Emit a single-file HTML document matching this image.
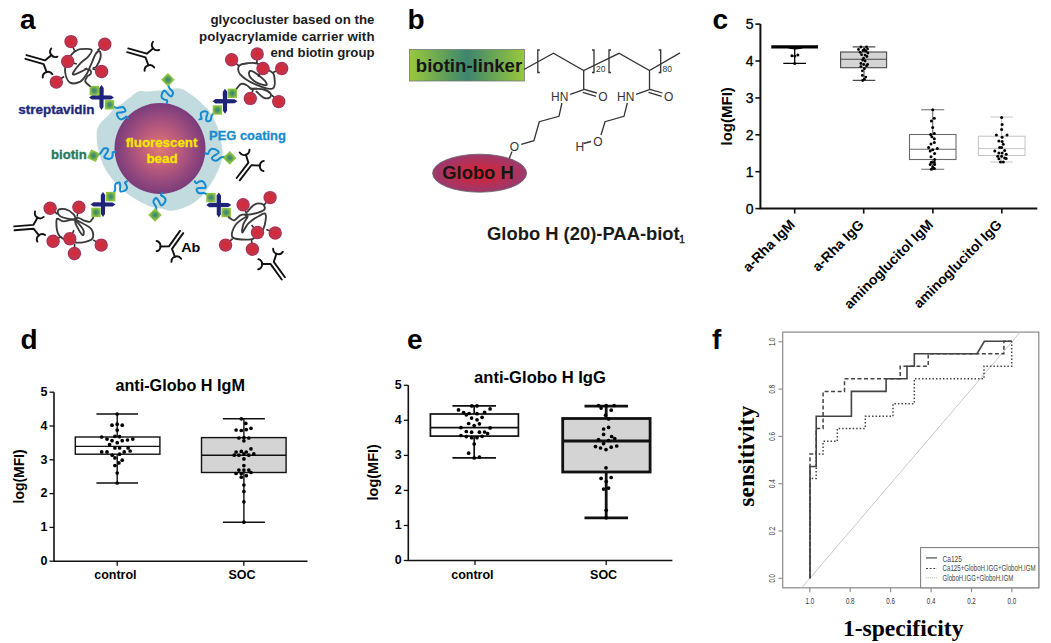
<!DOCTYPE html>
<html><head><meta charset="utf-8"><style>
html,body{margin:0;padding:0;background:#fff;}
body{width:1051px;height:643px;overflow:hidden;}
svg{display:block;}
</style></head><body>
<svg width="1051" height="643" viewBox="0 0 1051 643">
<defs>
<radialGradient id="bead" cx="0.5" cy="0.5" r="0.5"><stop offset="0" stop-color="#e07a70"/><stop offset="0.35" stop-color="#c4607a"/><stop offset="0.7" stop-color="#9c4c7e"/><stop offset="1" stop-color="#7a3c7a"/></radialGradient>
<radialGradient id="dia" cx="0.5" cy="0.5" r="0.6"><stop offset="0" stop-color="#2f7f80"/><stop offset="0.45" stop-color="#5f9e5a"/><stop offset="0.8" stop-color="#8cc63f"/></radialGradient>
<radialGradient id="red" cx="0.5" cy="0.5" r="0.5"><stop offset="0" stop-color="#e42230"/><stop offset="0.45" stop-color="#c9303f"/><stop offset="0.8" stop-color="#bd3650"/><stop offset="0.93" stop-color="#a82a50"/><stop offset="1" stop-color="#b03a5a"/></radialGradient>
<radialGradient id="gh" cx="0.5" cy="0.5" r="0.5"><stop offset="0" stop-color="#e0202e"/><stop offset="1" stop-color="#9a3a6e"/></radialGradient>
<linearGradient id="bl" x1="0" x2="1" y1="0" y2="0"><stop offset="0" stop-color="#98c93b"/><stop offset="0.3" stop-color="#62a158"/><stop offset="0.5" stop-color="#3d8570"/><stop offset="0.7" stop-color="#62a158"/><stop offset="1" stop-color="#98c93b"/></linearGradient>
</defs>
<rect width="1051" height="643" fill="#fff"/>
<path d="M97.5,128.5 C98.3,126.2 99.6,124.1 101.3,122 C103,119.9 105.7,118 107.9,115.8 C110.1,113.5 112.1,110.5 114.4,108.5 C116.7,106.5 119.4,105.4 121.9,103.7 C124.4,102 127.1,99.8 129.3,98.1 C131.5,96.4 133,94.6 134.9,93.4 C136.8,92.2 138.3,91.4 140.5,91.1 C142.7,90.8 143.9,91.7 148,91.5 C152.1,91.3 159.9,90.3 165.3,89.8 C170.7,89.3 175.8,87.6 180.5,88.7 C185.2,89.8 190,93.8 193.6,96.3 C197.2,98.8 199.8,101.6 202.3,104 C204.8,106.4 206.8,107.8 208.8,110.5 C210.8,113.2 212.9,117 214.5,120.3 C216.1,123.5 217.4,126.5 218.5,130 C219.6,133.4 220.3,137.3 221,141 C221.7,144.7 222.5,148.3 222.5,152 C222.5,155.7 222.2,159 221,163 C219.8,167 217.4,171.9 215.4,175.9 C213.4,179.9 211.4,183.2 208.8,186.8 C206.2,190.4 203.7,194.4 200.1,197.7 C196.5,201 191.7,204.2 187,206.4 C182.3,208.6 176.2,210.3 171.8,210.7 C167.5,211.1 164.5,209.3 160.9,208.6 C157.3,207.9 153.7,207.7 150,206.4 C146.3,205.1 142.9,203.4 138.7,201 C134.5,198.6 129,195.2 124.7,191.7 C120.4,188.2 116.5,184.3 113,180 C109.5,175.7 106.2,171.4 103.7,166 C101.2,160.6 99,152.4 97.8,147.4 C96.6,142.4 96.8,139.2 96.7,136 C96.7,132.8 96.7,130.8 97.5,128.5Z" fill="#c1dbde"/>
<circle cx="160" cy="148.5" r="45.5" fill="url(#bead)"/>
<text x="161.5" y="146.8" font-family='"Liberation Sans", sans-serif' font-size="13.3" font-weight="bold" fill="#f5e800" text-anchor="middle" stroke="#f5e800" stroke-width="0.3">fluorescent</text>
<text x="162" y="163.2" font-family='"Liberation Sans", sans-serif' font-size="13.3" font-weight="bold" fill="#f5e800" text-anchor="middle" stroke="#f5e800" stroke-width="0.3">bead</text>
<path d="M166.8,103 C166.9,102.6 167.6,100.9 167.2,100.3 C166.9,99.8 165.6,100.1 164.7,99.7 C163.8,99.2 162.4,98.7 161.9,97.8 C161.4,96.9 161.3,95.6 161.8,94.4 C162.2,93.2 163.5,90.5 164.6,90.5 C165.7,90.6 167.2,93.6 168.4,94.6 C169.5,95.6 170.6,96.8 171.4,96.4 C172.1,96 173.4,93.6 173,92.2 C172.6,90.7 170,89.2 169.2,87.7 C168.3,86.2 168.1,83.9 167.9,83.2" fill="none" stroke="#138ad0" stroke-width="2" stroke-linecap="round" stroke-linejoin="round"/>
<path d="M199.4,119.4 C199.8,119.3 201.3,119.2 201.6,118.7 C201.8,118.2 201,117.1 200.9,116.2 C200.8,115.2 200.6,113.8 201,113 C201.4,112.2 202.3,111.5 203.4,111.4 C204.5,111.3 207.1,111.4 207.6,112.4 C208.1,113.4 206.6,116 206.4,117.4 C206.2,118.8 205.8,120.2 206.4,120.8 C207.1,121.3 209.4,121.4 210.3,120.5 C211.2,119.6 211.1,116.6 211.9,115.2 C212.6,113.9 214.1,112.8 214.6,112.3" fill="none" stroke="#138ad0" stroke-width="2" stroke-linecap="round" stroke-linejoin="round"/>
<path d="M205.2,153.2 C205.7,153.3 207.4,154.3 208,154 C208.6,153.7 208.4,152.3 209,151.5 C209.5,150.7 210.3,149.4 211.3,149 C212.3,148.6 213.7,148.7 214.9,149.2 C216.1,149.8 218.9,151.4 218.7,152.5 C218.6,153.6 215.2,154.8 214,155.8 C212.9,156.8 211.4,157.7 211.8,158.5 C212.1,159.4 214.5,160.9 216.1,160.7 C217.7,160.5 219.6,158.1 221.3,157.4 C223,156.7 225.4,156.8 226.2,156.7" fill="none" stroke="#138ad0" stroke-width="2" stroke-linecap="round" stroke-linejoin="round"/>
<path d="M194.7,181.2 C195,181.6 195.7,183.2 196.4,183.3 C197,183.4 197.7,182.2 198.6,181.8 C199.5,181.5 200.8,180.8 201.8,181 C202.8,181.3 203.8,182 204.5,183.2 C205.1,184.3 206.2,187 205.4,187.8 C204.7,188.6 201.4,187.8 199.9,188 C198.4,188.2 196.8,188.2 196.6,189 C196.3,189.8 197.3,192.3 198.6,193 C199.9,193.7 202.9,192.8 204.5,193.2 C206.2,193.5 208,194.9 208.7,195.2" fill="none" stroke="#138ad0" stroke-width="2" stroke-linecap="round" stroke-linejoin="round"/>
<path d="M162,192.9 C161.8,193.3 160.7,194.7 160.9,195.3 C161.1,196 162.5,196 163.3,196.6 C164,197.2 165.2,198.1 165.5,199.1 C165.7,200 165.5,201.3 164.8,202.4 C164.1,203.4 162.2,205.7 161.2,205.4 C160.1,205.1 159.3,201.8 158.5,200.6 C157.6,199.4 156.8,197.9 156,198.1 C155.1,198.3 153.4,200.3 153.4,201.7 C153.4,203.2 155.6,205.4 156.1,207 C156.5,208.7 156.2,210.8 156.2,211.6" fill="none" stroke="#138ad0" stroke-width="2" stroke-linecap="round" stroke-linejoin="round"/>
<path d="M127,181.2 C126.7,181.5 125,182.1 124.9,182.7 C124.8,183.3 125.9,184.1 126.3,185 C126.6,185.9 127.2,187.2 127,188.2 C126.8,189.1 126,190.1 124.8,190.6 C123.7,191.1 121,192.1 120.3,191.3 C119.5,190.5 120.4,187.3 120.3,185.9 C120.1,184.4 120.2,182.8 119.3,182.5 C118.5,182.2 116.1,183 115.4,184.3 C114.7,185.5 115.5,188.4 115.1,190.1 C114.7,191.7 113.3,193.3 113,194" fill="none" stroke="#138ad0" stroke-width="2" stroke-linecap="round" stroke-linejoin="round"/>
<path d="M115.3,152 C114.9,152 113.2,151.7 112.7,152.2 C112.3,152.7 112.9,153.9 112.7,154.8 C112.5,155.8 112.3,157.3 111.6,157.9 C110.9,158.6 109.8,159 108.5,158.9 C107.3,158.7 104.5,158.1 104.3,157 C104.1,155.9 106.5,153.7 107.1,152.4 C107.8,151.1 108.7,149.7 108.1,149.1 C107.6,148.4 105.1,147.8 103.8,148.5 C102.6,149.2 101.7,152.1 100.5,153.3 C99.4,154.4 97.3,155.1 96.7,155.5" fill="none" stroke="#138ad0" stroke-width="2" stroke-linecap="round" stroke-linejoin="round"/>
<path d="M128.2,118.2 C127.9,117.9 127,116.4 126.3,116.4 C125.7,116.4 125.2,117.6 124.3,118.1 C123.5,118.6 122.3,119.4 121.3,119.4 C120.3,119.3 119.2,118.7 118.5,117.7 C117.8,116.6 116.4,114.1 117,113.2 C117.6,112.3 120.9,112.7 122.4,112.3 C123.8,111.9 125.4,111.7 125.5,110.8 C125.6,110 124.5,107.7 123.1,107.2 C121.7,106.7 119,108 117.3,107.9 C115.6,107.8 113.7,106.7 113,106.5" fill="none" stroke="#138ad0" stroke-width="2" stroke-linecap="round" stroke-linejoin="round"/>
<rect x="163.1" y="74.9" width="9.6" height="9.6" fill="url(#dia)" transform="rotate(45 167.9 79.7)"/>
<rect x="224.9" y="153.1" width="9.6" height="9.6" fill="url(#dia)" transform="rotate(45 229.7 157.9)"/>
<rect x="150.2" y="210.2" width="9.6" height="9.6" fill="url(#dia)" transform="rotate(45 155 215)"/>
<rect x="88.7" y="150.9" width="9.6" height="9.6" fill="url(#dia)" transform="rotate(25 93.5 155.7)"/>
<g transform="translate(101.5 97.4) rotate(0)" fill="#1f2479">
<path d="M0,-12.5 L2.2,-9.5 L2,9.5 L0,12.5 L-2,9.5 L-2.2,-9.5Z"/>
<path d="M-12.5,0 L-9.5,-2.2 L9.5,-2 L12.5,0 L9.5,2 L-9.5,2.2Z"/>
</g>
<rect x="89.6" y="85.9" width="9.4" height="9.4" fill="url(#dia)" transform="rotate(0 94.3 90.6)"/>
<rect x="104.8" y="100.1" width="9.4" height="9.4" fill="url(#dia)" transform="rotate(0 109.5 104.8)"/>
<g transform="translate(225 101.2) rotate(0)" fill="#1f2479">
<path d="M0,-12.5 L2.2,-9.5 L2,9.5 L0,12.5 L-2,9.5 L-2.2,-9.5Z"/>
<path d="M-12.5,0 L-9.5,-2.2 L9.5,-2 L12.5,0 L9.5,2 L-9.5,2.2Z"/>
</g>
<rect x="227.6" y="88.6" width="9.4" height="9.4" fill="url(#dia)" transform="rotate(0 232.3 93.3)"/>
<rect x="212.7" y="105.3" width="9.4" height="9.4" fill="url(#dia)" transform="rotate(0 217.4 110)"/>
<g transform="translate(103 204.4) rotate(0)" fill="#1f2479">
<path d="M0,-12.5 L2.2,-9.5 L2,9.5 L0,12.5 L-2,9.5 L-2.2,-9.5Z"/>
<path d="M-12.5,0 L-9.5,-2.2 L9.5,-2 L12.5,0 L9.5,2 L-9.5,2.2Z"/>
</g>
<rect x="106" y="191.9" width="9.4" height="9.4" fill="url(#dia)" transform="rotate(0 110.7 196.6)"/>
<rect x="91.3" y="207.7" width="9.4" height="9.4" fill="url(#dia)" transform="rotate(0 96 212.4)"/>
<g transform="translate(218.8 205) rotate(0)" fill="#1f2479">
<path d="M0,-12.5 L2.2,-9.5 L2,9.5 L0,12.5 L-2,9.5 L-2.2,-9.5Z"/>
<path d="M-12.5,0 L-9.5,-2.2 L9.5,-2 L12.5,0 L9.5,2 L-9.5,2.2Z"/>
</g>
<rect x="206.3" y="192.9" width="9.4" height="9.4" fill="url(#dia)" transform="rotate(0 211 197.6)"/>
<rect x="221.5" y="207.8" width="9.4" height="9.4" fill="url(#dia)" transform="rotate(0 226.2 212.5)"/>
<path d="M90,86.1 C89.2,85.3 85.9,83.1 85.4,81.6 C84.9,80.1 86,78.3 86.9,77 C87.8,75.7 90.5,74.7 91,73.5 C91.5,72.3 90.9,70.8 90,70 C89.1,69.2 86.2,69.1 85.4,68.9" fill="none" stroke="#3a3a3a" stroke-width="1.85" stroke-linecap="round" stroke-linejoin="round"/>
<path d="M74.3,51.7 C75.3,51.3 77.4,49.5 80.3,49.2 C83.2,48.9 90.2,48.5 91.5,49.7 C92.8,50.9 90.3,54 88.4,56.3 C86.5,58.6 82.8,60.7 80.3,63.4 C77.8,66.1 74.3,70.7 73.3,72.5 C72.3,74.3 72.6,74.8 74.3,74.5 C76,74.2 81.4,71.5 83.4,70.5 C85.4,69.5 85.9,68.8 86.4,68.4" fill="none" stroke="#3a3a3a" stroke-width="1.85" stroke-linecap="round" stroke-linejoin="round"/>
<path d="M74.3,51.7 C73.1,53.1 68.7,56.8 67.2,60.3 C65.7,63.8 64.7,68.8 65.2,72.5 C65.7,76.2 67.7,81.1 70.2,82.6 C72.7,84.1 77.6,82.9 80.3,81.6 C83,80.2 84.5,77.5 86.4,74.5 C88.3,71.5 90,66.8 91.5,63.4 C93,60 94.2,56.3 95.5,54.3 C96.8,52.3 98.8,50.7 99.6,51.2 C100.4,51.7 101.1,54.8 100.6,57.3 C100.1,59.8 97.7,64.6 96.5,66.4 C95.3,68.2 94,67.7 93.5,67.9" fill="none" stroke="#3a3a3a" stroke-width="1.85" stroke-linecap="round" stroke-linejoin="round"/>
<path d="M236.7,88.5 C237.4,87.7 239.6,84.5 241.2,83.9 C242.8,83.3 244.6,84.2 246.3,85 C248,85.8 249.7,88.4 251.4,89 C253.1,89.6 255.6,88.6 256.4,88.5" fill="none" stroke="#3a3a3a" stroke-width="1.85" stroke-linecap="round" stroke-linejoin="round"/>
<path d="M239.2,65.7 C237.8,67.5 237.5,71.2 240.2,74.3 C242.9,77.4 250,82 255.4,84.4 C260.8,86.8 269.5,90 272.6,88.5 C275.7,87 274.6,78.2 274.1,75.3 C273.6,72.3 272.4,72.7 269.6,70.8 C266.8,68.9 260.9,65 257.4,63.7 C253.8,62.4 251.3,62.9 248.3,63.2 C245.3,63.5 240.5,63.9 239.2,65.7Z" fill="none" stroke="#3a3a3a" stroke-width="1.85" stroke-linecap="round" stroke-linejoin="round"/>
<path d="M249.3,71.8 C248.8,72.7 248.8,75.5 250.3,77.4 C251.8,79.3 255.7,82.1 258.4,83.4 C261.1,84.7 265.6,85.7 266.5,85 C267.4,84.3 265.7,81.6 263.5,79.4 C261.3,77.2 255.8,73.1 253.4,71.8 C251,70.5 249.8,70.9 249.3,71.8Z" fill="none" stroke="#3a3a3a" stroke-width="1.85" stroke-linecap="round" stroke-linejoin="round"/>
<path d="M250.3,88.5 C252.5,88.7 260.1,88.7 263.5,89.5 C266.9,90.3 269.6,92.2 270.6,93.6 C271.6,94.9 270.8,96.9 269.6,97.6 C268.4,98.3 265.7,98.6 263.5,97.6 C261.3,96.6 257.6,92.5 256.4,91.5" fill="none" stroke="#3a3a3a" stroke-width="1.85" stroke-linecap="round" stroke-linejoin="round"/>
<path d="M93.1,217.8 C92.5,218.5 91.2,221.4 89.6,221.8 C88,222.2 85.4,221 83.5,220.3 C81.6,219.6 79.9,218 78.4,217.8 C76.9,217.6 75.1,219.1 74.4,219.3" fill="none" stroke="#3a3a3a" stroke-width="1.85" stroke-linecap="round" stroke-linejoin="round"/>
<path d="M58.2,210.2 C57.4,211.4 57.5,214.6 60.2,216.2 C62.9,217.8 72.2,220.1 74.4,219.8 C76.6,219.5 74.9,216 73.4,214.2 C71.9,212.4 67.8,209.9 65.3,209.2 C62.8,208.5 59.1,209 58.2,210.2Z" fill="none" stroke="#3a3a3a" stroke-width="1.85" stroke-linecap="round" stroke-linejoin="round"/>
<path d="M56.7,219.3 C56,221.7 56.1,231.6 59.2,235.5 C62.3,239.4 70,241.8 75.4,242.5 C80.8,243.2 88.9,241.7 91.6,239.5 C94.3,237.3 93.4,232.3 91.6,229.4 C89.8,226.5 83.4,224 80.5,222.3 C77.6,220.6 77.3,219.5 74.4,219.3 C71.5,219.1 66.2,221.3 63.3,221.3 C60.3,221.3 57.4,216.9 56.7,219.3Z" fill="none" stroke="#3a3a3a" stroke-width="1.85" stroke-linecap="round" stroke-linejoin="round"/>
<path d="M75.4,220.8 C75.1,221.1 75.2,222.9 76.4,225.3 C77.6,227.7 81.3,234.2 82.5,235 C83.7,235.8 84.2,232.3 83.5,230.4 C82.8,228.5 79.8,224.9 78.4,223.3 C77.1,221.7 75.7,220.5 75.4,220.8Z" fill="none" stroke="#3a3a3a" stroke-width="1.85" stroke-linecap="round" stroke-linejoin="round"/>
<path d="M228.7,217.3 C229.6,217.8 232.3,220.6 234.2,220.3 C236.1,220 238.1,216.3 240.3,215.3 C242.5,214.3 246.2,214.5 247.4,214.3" fill="none" stroke="#3a3a3a" stroke-width="1.85" stroke-linecap="round" stroke-linejoin="round"/>
<path d="M247.4,216.3 C246.1,216.5 237.6,221.9 235.2,225.4 C232.8,228.9 230.5,235.1 232.7,237.5 C234.9,239.9 244.6,239.6 248.4,239.6 C252.2,239.6 253,239.4 255.5,237.5 C258,235.6 261.9,232.3 263.6,228.4 C265.3,224.5 266.5,216.3 265.6,214.3 C264.8,212.3 261.4,214.8 258.5,216.3 C255.6,217.8 251.1,220.7 248.4,223.4 C245.7,226.1 243.2,232.3 242.3,232.5 C241.5,232.7 242.5,227.1 243.3,224.4 C244.2,221.7 248.8,216.1 247.4,216.3Z" fill="none" stroke="#3a3a3a" stroke-width="1.85" stroke-linecap="round" stroke-linejoin="round"/>
<path d="M247.4,211.7 C248.6,210.5 251.9,205.9 254.4,204.7 C256.9,203.4 260.8,203.4 262.5,204.2 C264.2,204.9 265.4,207.8 264.6,209.2 C263.8,210.6 260.7,211.8 257.5,212.8 C254.3,213.8 247.3,214.9 245.3,215.3" fill="none" stroke="#3a3a3a" stroke-width="1.85" stroke-linecap="round" stroke-linejoin="round"/>
<path d="M71,41.6 L74.4,50.5" stroke="#2e2e2e" stroke-width="1.6"/>
<path d="M104.8,44.2 L97.5,50.3" stroke="#2e2e2e" stroke-width="1.6"/>
<path d="M67.7,61.4 L76.8,64.1" stroke="#2e2e2e" stroke-width="1.6"/>
<path d="M101.6,71.5 L92.5,68.8" stroke="#2e2e2e" stroke-width="1.6"/>
<path d="M56.3,82.1 L64,76.5" stroke="#2e2e2e" stroke-width="1.6"/>
<path d="M231.6,59.7 L238.9,65.8" stroke="#2e2e2e" stroke-width="1.6"/>
<path d="M257.2,53.9 L256.8,63.4" stroke="#2e2e2e" stroke-width="1.6"/>
<path d="M263,68.5 L258.1,76.6" stroke="#2e2e2e" stroke-width="1.6"/>
<path d="M281.7,68.5 L273,72.4" stroke="#2e2e2e" stroke-width="1.6"/>
<path d="M250.3,98.4 L253.1,89.3" stroke="#2e2e2e" stroke-width="1.6"/>
<path d="M278.7,101.6 L271.8,95.1" stroke="#2e2e2e" stroke-width="1.6"/>
<path d="M50.1,208.2 L57.5,214.1" stroke="#2e2e2e" stroke-width="1.6"/>
<path d="M78.9,207.3 L77.1,216.6" stroke="#2e2e2e" stroke-width="1.6"/>
<path d="M53.1,241.3 L61.2,236.4" stroke="#2e2e2e" stroke-width="1.6"/>
<path d="M69.8,238.7 L74,230.2" stroke="#2e2e2e" stroke-width="1.6"/>
<path d="M101.2,245.1 L93.2,239.9" stroke="#2e2e2e" stroke-width="1.6"/>
<path d="M74.4,253.5 L74.6,244" stroke="#2e2e2e" stroke-width="1.6"/>
<path d="M243.1,204.7 L246.5,213.6" stroke="#2e2e2e" stroke-width="1.6"/>
<path d="M270.1,197.6 L264.2,205" stroke="#2e2e2e" stroke-width="1.6"/>
<path d="M257.5,232.5 L251.6,225" stroke="#2e2e2e" stroke-width="1.6"/>
<path d="M275.2,233 L266.4,229.5" stroke="#2e2e2e" stroke-width="1.6"/>
<path d="M225.6,245.1 L232.6,238.7" stroke="#2e2e2e" stroke-width="1.6"/>
<path d="M252.4,249.2 L251.5,239.7" stroke="#2e2e2e" stroke-width="1.6"/>
<circle cx="71" cy="41.6" r="6.7" fill="url(#red)"/>
<circle cx="104.8" cy="44.2" r="6.7" fill="url(#red)"/>
<circle cx="67.7" cy="61.4" r="6.7" fill="url(#red)"/>
<circle cx="101.6" cy="71.5" r="6.7" fill="url(#red)"/>
<circle cx="56.3" cy="82.1" r="6.7" fill="url(#red)"/>
<circle cx="231.6" cy="59.7" r="6.7" fill="url(#red)"/>
<circle cx="257.2" cy="53.9" r="6.7" fill="url(#red)"/>
<circle cx="263" cy="68.5" r="6.7" fill="url(#red)"/>
<circle cx="281.7" cy="68.5" r="6.7" fill="url(#red)"/>
<circle cx="250.3" cy="98.4" r="6.7" fill="url(#red)"/>
<circle cx="278.7" cy="101.6" r="6.7" fill="url(#red)"/>
<circle cx="50.1" cy="208.2" r="6.7" fill="url(#red)"/>
<circle cx="78.9" cy="207.3" r="6.7" fill="url(#red)"/>
<circle cx="53.1" cy="241.3" r="6.7" fill="url(#red)"/>
<circle cx="69.8" cy="238.7" r="6.7" fill="url(#red)"/>
<circle cx="101.2" cy="245.1" r="6.7" fill="url(#red)"/>
<circle cx="74.4" cy="253.5" r="6.7" fill="url(#red)"/>
<circle cx="243.1" cy="204.7" r="6.7" fill="url(#red)"/>
<circle cx="270.1" cy="197.6" r="6.7" fill="url(#red)"/>
<circle cx="257.5" cy="232.5" r="6.7" fill="url(#red)"/>
<circle cx="275.2" cy="233" r="6.7" fill="url(#red)"/>
<circle cx="225.6" cy="245.1" r="6.7" fill="url(#red)"/>
<circle cx="252.4" cy="249.2" r="6.7" fill="url(#red)"/>
<g transform="translate(44.2 62.2) rotate(16)" fill="none" stroke="#111" stroke-width="1.9" stroke-linecap="round" stroke-linejoin="round">
<path d="M-19,-1.95 L0.3,-1.95 L5.1,-8.9 M-19,1.95 L0,1.95 L5.1,8.9"/>
<path d="M3,-15.1 A5.3,5.3 0 0 0 11.2,-9 M2.8,15.1 A5.3,5.3 0 0 1 11.1,9.2"/>
</g>
<g transform="translate(146 55.5) rotate(15.8)" fill="none" stroke="#111" stroke-width="1.9" stroke-linecap="round" stroke-linejoin="round">
<path d="M-19,-1.95 L0.3,-1.95 L5.1,-8.9 M-19,1.95 L0,1.95 L5.1,8.9"/>
<path d="M3,-15.1 A5.3,5.3 0 0 0 11.2,-9 M2.8,15.1 A5.3,5.3 0 0 1 11.1,9.2"/>
</g>
<g transform="translate(249.8 164.1) rotate(-52.4)" fill="none" stroke="#111" stroke-width="1.9" stroke-linecap="round" stroke-linejoin="round">
<path d="M-19,-1.95 L0.3,-1.95 L5.1,-8.9 M-19,1.95 L0,1.95 L5.1,8.9"/>
<path d="M3,-15.1 A5.3,5.3 0 0 0 11.2,-9 M2.8,15.1 A5.3,5.3 0 0 1 11.1,9.2"/>
</g>
<g transform="translate(33.3 226.8) rotate(-4.7)" fill="none" stroke="#111" stroke-width="1.9" stroke-linecap="round" stroke-linejoin="round">
<path d="M-19,-1.95 L0.3,-1.95 L5.1,-8.9 M-19,1.95 L0,1.95 L5.1,8.9"/>
<path d="M3,-15.1 A5.3,5.3 0 0 0 11.2,-9 M2.8,15.1 A5.3,5.3 0 0 1 11.1,9.2"/>
</g>
<g transform="translate(170.6 247.5) rotate(125.4)" fill="none" stroke="#111" stroke-width="1.9" stroke-linecap="round" stroke-linejoin="round">
<path d="M-19,-1.95 L0.3,-1.95 L5.1,-8.9 M-19,1.95 L0,1.95 L5.1,8.9"/>
<path d="M3,-15.1 A5.3,5.3 0 0 0 11.2,-9 M2.8,15.1 A5.3,5.3 0 0 1 11.1,9.2"/>
</g>
<g transform="translate(272.2 263) rotate(-125.8)" fill="none" stroke="#111" stroke-width="1.9" stroke-linecap="round" stroke-linejoin="round">
<path d="M-19,-1.95 L0.3,-1.95 L5.1,-8.9 M-19,1.95 L0,1.95 L5.1,8.9"/>
<path d="M3,-15.1 A5.3,5.3 0 0 0 11.2,-9 M2.8,15.1 A5.3,5.3 0 0 1 11.1,9.2"/>
</g>
<text x="20" y="29.4" font-family='"Liberation Sans", sans-serif' font-size="28" font-weight="bold" fill="#000" text-anchor="start" >a</text>
<text x="374.5" y="24.1" font-family='"Liberation Sans", sans-serif' font-size="13.3" font-weight="bold" fill="#1c1c1c" text-anchor="end" >glycocluster based on the</text>
<text x="374.5" y="40.6" font-family='"Liberation Sans", sans-serif' font-size="13.3" font-weight="bold" fill="#1c1c1c" text-anchor="end" textLength="175.5" lengthAdjust="spacing">polyacrylamide carrier with</text>
<text x="374.5" y="57" font-family='"Liberation Sans", sans-serif' font-size="13.2" font-weight="bold" fill="#1c1c1c" text-anchor="end" >end biotin group</text>
<text x="18.3" y="114.1" font-family='"Liberation Sans", sans-serif' font-size="13.44" font-weight="bold" fill="#202878" text-anchor="start" stroke="#202878" stroke-width="0.35">streptavidin</text>
<text x="209" y="140.4" font-family='"Liberation Sans", sans-serif' font-size="12.95" font-weight="bold" fill="#1a8ccc" text-anchor="start" stroke="#1a8ccc" stroke-width="0.3">PEG coating</text>
<text x="51" y="159.3" font-family='"Liberation Sans", sans-serif' font-size="13.1" font-weight="bold" fill="#2a785a" text-anchor="start" stroke="#2a785a" stroke-width="0.35">biotin</text>
<text x="181.2" y="252.4" font-family='"Liberation Sans", sans-serif' font-size="13.1" font-weight="bold" fill="#000" text-anchor="start" textLength="19.2" lengthAdjust="spacingAndGlyphs">Ab</text>
<text x="407.4" y="29.2" font-family='"Liberation Sans", sans-serif' font-size="28" font-weight="bold" fill="#000" text-anchor="start" >b</text>
<rect x="409.5" y="49.5" width="115" height="31.5" fill="url(#bl)" stroke="#777" stroke-width="0.8"/>
<text x="415.8" y="72.3" font-family='"Liberation Sans", sans-serif' font-size="18.6" font-weight="bold" fill="#161616" text-anchor="start" >biotin-linker</text>
<path d="M524,69.5 L553.4,53.3 L583.7,70.5 L619,53.3 L649.5,70.5 L680,52.9" fill="none" stroke="#333" stroke-width="1.3" stroke-linejoin="miter"/>
<path d="M539.8,50 L537.8,50 L537.8,72.5 L539.8,72.5" fill="none" stroke="#333" stroke-width="1.3" stroke-linejoin="miter"/>
<path d="M592,50 L594,50 L594,72.5 L592,72.5" fill="none" stroke="#333" stroke-width="1.3" stroke-linejoin="miter"/>
<path d="M611,50 L609,50 L609,72.5 L611,72.5" fill="none" stroke="#333" stroke-width="1.3" stroke-linejoin="miter"/>
<path d="M658.7,50 L660.7,50 L660.7,72.5 L658.7,72.5" fill="none" stroke="#333" stroke-width="1.3" stroke-linejoin="miter"/>
<text x="596" y="71.5" font-family='"Liberation Sans", sans-serif' font-size="8.5" font-weight="normal" fill="#333" text-anchor="start" >20</text>
<text x="662.5" y="71.5" font-family='"Liberation Sans", sans-serif' font-size="8.5" font-weight="normal" fill="#333" text-anchor="start" >80</text>
<path d="M583.7,70.5 L583.7,89.5" fill="none" stroke="#333" stroke-width="1.3" stroke-linejoin="miter"/>
<path d="M583.4,89.2 L596.8,93 M582.7,92.4 L596.1,96.3" fill="none" stroke="#333" stroke-width="1.3" stroke-linejoin="miter"/>
<path d="M583.7,89.6 L570.2,94.3" fill="none" stroke="#333" stroke-width="1.3" stroke-linejoin="miter"/>
<text x="598.3" y="101.1" font-family='"Liberation Sans", sans-serif' font-size="12" font-weight="normal" fill="#333" text-anchor="start" >O</text>
<text x="551" y="101.1" font-family='"Liberation Sans", sans-serif' font-size="12" font-weight="normal" fill="#333" text-anchor="start" >HN</text>
<path d="M649.5,70.5 L649.5,89.5" fill="none" stroke="#333" stroke-width="1.3" stroke-linejoin="miter"/>
<path d="M649.2,89.2 L662.5,93 M648.5,92.4 L661.8,96.3" fill="none" stroke="#333" stroke-width="1.3" stroke-linejoin="miter"/>
<path d="M649.5,89.6 L636,94.3" fill="none" stroke="#333" stroke-width="1.3" stroke-linejoin="miter"/>
<text x="664" y="101.1" font-family='"Liberation Sans", sans-serif' font-size="12" font-weight="normal" fill="#333" text-anchor="start" >O</text>
<text x="617" y="101.1" font-family='"Liberation Sans", sans-serif' font-size="12" font-weight="normal" fill="#333" text-anchor="start" >HN</text>
<path d="M561.9,103 L559,116.3 L539.3,121.7 L533.9,140.7 L521.2,144.3" fill="none" stroke="#333" stroke-width="1.3" stroke-linejoin="miter"/>
<text x="514.5" y="151" font-family='"Liberation Sans", sans-serif' font-size="12" font-weight="normal" fill="#333" text-anchor="middle" >O</text>
<path d="M512,151.5 L508.6,160" fill="none" stroke="#333" stroke-width="1.3" stroke-linejoin="miter"/>
<path d="M627.3,103 L624,116.3 L605,121.7 L601,135" fill="none" stroke="#333" stroke-width="1.3" stroke-linejoin="miter"/>
<text x="598" y="146" font-family='"Liberation Sans", sans-serif' font-size="12" font-weight="normal" fill="#333" text-anchor="middle" >O</text>
<path d="M583.5,143.5 L591,141.5" fill="none" stroke="#333" stroke-width="1.3" stroke-linejoin="miter"/>
<text x="575.5" y="151" font-family='"Liberation Sans", sans-serif' font-size="12" font-weight="normal" fill="#333" text-anchor="start" >H</text>
<ellipse cx="479.6" cy="173.2" rx="47" ry="19" fill="url(#gh)" stroke="#666" stroke-width="0.8"/>
<text x="478" y="178.7" font-family='"Liberation Sans", sans-serif' font-size="18.4" font-weight="bold" fill="#161616" text-anchor="middle" >Globo H</text>
<text x="487" y="239.6" font-family='"Liberation Sans", sans-serif' font-size="18.4" font-weight="bold" fill="#1a1a1a" text-anchor="start" >Globo H (20)-PAA-biot<tspan font-size="10" dx="-0.5" dy="3.5" font-weight="normal" stroke="#161616" stroke-width="0.4">1</tspan></text>
<text x="712.5" y="29.4" font-family='"Liberation Sans", sans-serif' font-size="28" font-weight="bold" fill="#000" text-anchor="start" >c</text>
<path d="M760.4,24.1 V208.6 H1037.3" fill="none" stroke="#111" stroke-width="2"/>
<path d="M755.4,208.6 H760.4" stroke="#111" stroke-width="1.6"/>
<text x="753.6" y="213.6" font-family='"Liberation Sans", sans-serif' font-size="14" font-weight="normal" fill="#000" text-anchor="end" stroke="#000" stroke-width="0.3">0</text>
<path d="M755.4,171.7 H760.4" stroke="#111" stroke-width="1.6"/>
<text x="753.6" y="176.7" font-family='"Liberation Sans", sans-serif' font-size="14" font-weight="normal" fill="#000" text-anchor="end" stroke="#000" stroke-width="0.3">1</text>
<path d="M755.4,134.8 H760.4" stroke="#111" stroke-width="1.6"/>
<text x="753.6" y="139.8" font-family='"Liberation Sans", sans-serif' font-size="14" font-weight="normal" fill="#000" text-anchor="end" stroke="#000" stroke-width="0.3">2</text>
<path d="M755.4,97.9 H760.4" stroke="#111" stroke-width="1.6"/>
<text x="753.6" y="102.9" font-family='"Liberation Sans", sans-serif' font-size="14" font-weight="normal" fill="#000" text-anchor="end" stroke="#000" stroke-width="0.3">3</text>
<path d="M755.4,61 H760.4" stroke="#111" stroke-width="1.6"/>
<text x="753.6" y="66" font-family='"Liberation Sans", sans-serif' font-size="14" font-weight="normal" fill="#000" text-anchor="end" stroke="#000" stroke-width="0.3">4</text>
<path d="M755.4,24.1 H760.4" stroke="#111" stroke-width="1.6"/>
<text x="753.6" y="29.1" font-family='"Liberation Sans", sans-serif' font-size="14" font-weight="normal" fill="#000" text-anchor="end" stroke="#000" stroke-width="0.3">5</text>
<path d="M794.7,208.6 V213.6" stroke="#111" stroke-width="1.6"/>
<path d="M863.7,208.6 V213.6" stroke="#111" stroke-width="1.6"/>
<path d="M932.9,208.6 V213.6" stroke="#111" stroke-width="1.6"/>
<path d="M1001.8,208.6 V213.6" stroke="#111" stroke-width="1.6"/>
<text transform="translate(732 116.3) rotate(-90)" font-family='"Liberation Sans", sans-serif' font-size="15" font-weight="bold" text-anchor="middle">log(MFI)</text>
<text transform="translate(795.7 225.5) rotate(-45)" font-family='"Liberation Sans", sans-serif' font-size="14" font-weight="bold" text-anchor="end">a-Rha IgM</text>
<text transform="translate(864.7 225.5) rotate(-45)" font-family='"Liberation Sans", sans-serif' font-size="14" font-weight="bold" text-anchor="end">a-Rha IgG</text>
<text transform="translate(933.9 225.5) rotate(-45)" font-family='"Liberation Sans", sans-serif' font-size="14" font-weight="bold" text-anchor="end">aminoglucitol IgM</text>
<text transform="translate(1002.8 225.5) rotate(-45)" font-family='"Liberation Sans", sans-serif' font-size="14" font-weight="bold" text-anchor="end">aminoglucitol IgG</text>
<path d="M771.3,46.8 H818" stroke="#000" stroke-width="3.3"/>
<path d="M786,47.5 Q795,51.5 805,47.5Z" fill="#000"/>
<path d="M794.7,46.5 V63.4 M783.3,63.4 H806" stroke="#000" stroke-width="1.3"/>
<circle cx="791.9" cy="55.7" r="1.5"/>
<circle cx="794.8" cy="56.1" r="1.5"/>
<circle cx="797.8" cy="55" r="1.5"/>
<circle cx="794.7" cy="63.4" r="1.5"/>
<path d="M864,46.9 V52 M864,67.7 V80.4" stroke="#484848" stroke-width="1.1" fill="none"/>
<path d="M852.7,46.9 H875.3 M852.7,80.4 H875.3" stroke="#484848" stroke-width="1.1" fill="none"/>
<rect x="840.6" y="52" width="46" height="15.7" fill="#d4d4d4" stroke="#484848" stroke-width="1.1"/>
<path d="M840.6,59.3 H886.6" stroke="#484848" stroke-width="1.1"/>
<circle cx="860.9" cy="47" r="1.4"/>
<circle cx="866.5" cy="47" r="1.4"/>
<circle cx="858.5" cy="49.5" r="1.4"/>
<circle cx="864.4" cy="49.5" r="1.4"/>
<circle cx="867.6" cy="49.1" r="1.4"/>
<circle cx="860.2" cy="52.3" r="1.4"/>
<circle cx="867.9" cy="53" r="1.4"/>
<circle cx="861.6" cy="54.7" r="1.4"/>
<circle cx="865.1" cy="55.1" r="1.4"/>
<circle cx="866.9" cy="56.5" r="1.4"/>
<circle cx="863.7" cy="58.2" r="1.4"/>
<circle cx="862.7" cy="60" r="1.4"/>
<circle cx="865.1" cy="61" r="1.4"/>
<circle cx="860.9" cy="63.5" r="1.4"/>
<circle cx="863.7" cy="64.5" r="1.4"/>
<circle cx="867.6" cy="64.5" r="1.4"/>
<circle cx="860.9" cy="66.6" r="1.4"/>
<circle cx="866.5" cy="65.9" r="1.4"/>
<circle cx="864.4" cy="68.7" r="1.4"/>
<circle cx="862.3" cy="70.8" r="1.4"/>
<circle cx="862.3" cy="75.4" r="1.4"/>
<circle cx="865.8" cy="77.1" r="1.4"/>
<circle cx="864.4" cy="79.2" r="1.4"/>
<circle cx="862.7" cy="80.5" r="1.4"/>
<circle cx="863" cy="50.5" r="1.4"/>
<circle cx="865.8" cy="51.2" r="1.4"/>
<path d="M932.7,109.7 V134.5 M932.7,159.5 V169.3" stroke="#6a6a6a" stroke-width="1.1" fill="none"/>
<path d="M921.2,109.7 H944.2 M921.2,169.3 H944.2" stroke="#6a6a6a" stroke-width="1.1" fill="none"/>
<rect x="909.5" y="134.5" width="46.5" height="25" fill="none" stroke="#6a6a6a" stroke-width="1.1"/>
<path d="M909.5,149.2 H956" stroke="#6a6a6a" stroke-width="1.1"/>
<circle cx="932.7" cy="109.7" r="1.5"/>
<circle cx="934.3" cy="118.2" r="1.5"/>
<circle cx="931.4" cy="121.1" r="1.5"/>
<circle cx="932.7" cy="127.4" r="1.5"/>
<circle cx="930.7" cy="134.5" r="1.5"/>
<circle cx="934.3" cy="133.4" r="1.5"/>
<circle cx="931.9" cy="136.7" r="1.5"/>
<circle cx="934.3" cy="138.8" r="1.5"/>
<circle cx="934.3" cy="142.4" r="1.5"/>
<circle cx="931" cy="144" r="1.5"/>
<circle cx="928.6" cy="147.6" r="1.5"/>
<circle cx="932.7" cy="149.7" r="1.5"/>
<circle cx="937.3" cy="148.6" r="1.5"/>
<circle cx="930.2" cy="150.9" r="1.5"/>
<circle cx="934.6" cy="153.5" r="1.5"/>
<circle cx="931" cy="156.8" r="1.5"/>
<circle cx="934.6" cy="159.5" r="1.5"/>
<circle cx="931.4" cy="162.3" r="1.5"/>
<circle cx="934.3" cy="162.3" r="1.5"/>
<circle cx="930.2" cy="164.4" r="1.5"/>
<circle cx="934.6" cy="164.4" r="1.5"/>
<circle cx="932.7" cy="166.9" r="1.5"/>
<circle cx="931.4" cy="169.3" r="1.5"/>
<circle cx="934.3" cy="168.5" r="1.5"/>
<path d="M1001.6,117 V136.2 M1001.6,155.5 V162" stroke="#c4c4c4" stroke-width="1.0" fill="none"/>
<path d="M990.5,117 H1012.8 M990.5,162 H1012.8" stroke="#c4c4c4" stroke-width="1.0" fill="none"/>
<rect x="978.4" y="136.2" width="46.6" height="19.3" fill="none" stroke="#c4c4c4" stroke-width="1.0"/>
<path d="M978.4,148.6 H1025" stroke="#c4c4c4" stroke-width="1.0"/>
<circle cx="1001.6" cy="117.4" r="1.5"/>
<circle cx="1002.1" cy="124.4" r="1.5"/>
<circle cx="1001.6" cy="129.6" r="1.5"/>
<circle cx="996.4" cy="135" r="1.5"/>
<circle cx="1002.1" cy="137.2" r="1.5"/>
<circle cx="1007" cy="135" r="1.5"/>
<circle cx="998.9" cy="141.1" r="1.5"/>
<circle cx="1002.1" cy="141.6" r="1.5"/>
<circle cx="1003.3" cy="144.3" r="1.5"/>
<circle cx="1001.6" cy="147.6" r="1.5"/>
<circle cx="999.7" cy="147.6" r="1.5"/>
<circle cx="1004.6" cy="150.6" r="1.5"/>
<circle cx="994.8" cy="150.9" r="1.5"/>
<circle cx="998.9" cy="153" r="1.5"/>
<circle cx="1002.1" cy="153" r="1.5"/>
<circle cx="1006.2" cy="154.2" r="1.5"/>
<circle cx="997.7" cy="156.3" r="1.5"/>
<circle cx="1001.6" cy="156.3" r="1.5"/>
<circle cx="1004.6" cy="157.9" r="1.5"/>
<circle cx="998.9" cy="158.7" r="1.5"/>
<circle cx="1006.2" cy="158.4" r="1.5"/>
<circle cx="1000.5" cy="162" r="1.5"/>
<circle cx="1003.3" cy="162" r="1.5"/>
<text x="20.5" y="348.6" font-family='"Liberation Sans", sans-serif' font-size="28" font-weight="bold" fill="#000" text-anchor="start" >d</text>
<path d="M54,392.2 V561.2 H307.5" fill="none" stroke="#111" stroke-width="1.6"/>
<path d="M49.5,561.2 H54" stroke="#111" stroke-width="1.3"/>
<text x="47.5" y="564.9" font-family='"Liberation Sans", sans-serif' font-size="12.5" font-weight="bold" fill="#000" text-anchor="end" >0</text>
<path d="M49.5,527.4 H54" stroke="#111" stroke-width="1.3"/>
<text x="47.5" y="531.1" font-family='"Liberation Sans", sans-serif' font-size="12.5" font-weight="bold" fill="#000" text-anchor="end" >1</text>
<path d="M49.5,493.6 H54" stroke="#111" stroke-width="1.3"/>
<text x="47.5" y="497.3" font-family='"Liberation Sans", sans-serif' font-size="12.5" font-weight="bold" fill="#000" text-anchor="end" >2</text>
<path d="M49.5,459.8 H54" stroke="#111" stroke-width="1.3"/>
<text x="47.5" y="463.5" font-family='"Liberation Sans", sans-serif' font-size="12.5" font-weight="bold" fill="#000" text-anchor="end" >3</text>
<path d="M49.5,426 H54" stroke="#111" stroke-width="1.3"/>
<text x="47.5" y="429.7" font-family='"Liberation Sans", sans-serif' font-size="12.5" font-weight="bold" fill="#000" text-anchor="end" >4</text>
<path d="M49.5,392.2 H54" stroke="#111" stroke-width="1.3"/>
<text x="47.5" y="395.9" font-family='"Liberation Sans", sans-serif' font-size="12.5" font-weight="bold" fill="#000" text-anchor="end" >5</text>
<path d="M117.2,561.2 V565.7" stroke="#111" stroke-width="1.3"/>
<path d="M243.8,561.2 V565.7" stroke="#111" stroke-width="1.3"/>
<text x="115.4" y="579.2" font-family='"Liberation Sans", sans-serif' font-size="12.5" font-weight="bold" fill="#000" text-anchor="middle" >control</text>
<text x="242" y="579.2" font-family='"Liberation Sans", sans-serif' font-size="12.5" font-weight="bold" fill="#000" text-anchor="middle" >SOC</text>
<text x="180.2" y="391.4" font-family='"Liberation Sans", sans-serif' font-size="16.2" font-weight="bold" fill="#000" text-anchor="middle" >anti-Globo H IgM</text>
<text transform="translate(24 476.4) rotate(-90)" font-family='"Liberation Sans", sans-serif' font-size="13.9" font-weight="bold" text-anchor="middle">log(MFI)</text>
<path d="M117.2,414 V437 M117.2,454.2 V483" stroke="#111" stroke-width="1.4" fill="none"/>
<path d="M96.4,414 H138 M96.4,483 H138" stroke="#111" stroke-width="1.4" fill="none"/>
<rect x="75.3" y="437" width="84.6" height="17.2" fill="#fff" stroke="#111" stroke-width="1.4"/>
<path d="M75.3,446.4 H159.9" stroke="#111" stroke-width="1.4"/>
<circle cx="117.2" cy="414" r="1.85" fill="#000"/>
<circle cx="112" cy="425.2" r="1.85" fill="#000"/>
<circle cx="117.2" cy="424.2" r="1.85" fill="#000"/>
<circle cx="122.2" cy="425.2" r="1.85" fill="#000"/>
<circle cx="117.2" cy="430.1" r="1.85" fill="#000"/>
<circle cx="101.7" cy="437" r="1.85" fill="#000"/>
<circle cx="107" cy="439.1" r="1.85" fill="#000"/>
<circle cx="114.9" cy="436.3" r="1.85" fill="#000"/>
<circle cx="119.6" cy="436.7" r="1.85" fill="#000"/>
<circle cx="112" cy="440.7" r="1.85" fill="#000"/>
<circle cx="117.2" cy="442.7" r="1.85" fill="#000"/>
<circle cx="122.2" cy="440.7" r="1.85" fill="#000"/>
<circle cx="127.5" cy="440" r="1.85" fill="#000"/>
<circle cx="132.8" cy="439.1" r="1.85" fill="#000"/>
<circle cx="109.6" cy="444.6" r="1.85" fill="#000"/>
<circle cx="114.9" cy="447.9" r="1.85" fill="#000"/>
<circle cx="119.6" cy="447.9" r="1.85" fill="#000"/>
<circle cx="128.1" cy="447.9" r="1.85" fill="#000"/>
<circle cx="130.1" cy="451" r="1.85" fill="#000"/>
<circle cx="101.7" cy="451.9" r="1.85" fill="#000"/>
<circle cx="107" cy="451.9" r="1.85" fill="#000"/>
<circle cx="124.2" cy="451.9" r="1.85" fill="#000"/>
<circle cx="112.3" cy="455.2" r="1.85" fill="#000"/>
<circle cx="119.6" cy="454.2" r="1.85" fill="#000"/>
<circle cx="114.9" cy="457.9" r="1.85" fill="#000"/>
<circle cx="122.2" cy="460.2" r="1.85" fill="#000"/>
<circle cx="118.9" cy="462.9" r="1.85" fill="#000"/>
<circle cx="114.9" cy="465.5" r="1.85" fill="#000"/>
<circle cx="117.2" cy="473" r="1.85" fill="#000"/>
<circle cx="117.2" cy="483" r="1.85" fill="#000"/>
<path d="M243.9,418.8 V437.6 M243.9,472.5 V522.2" stroke="#111" stroke-width="1.4" fill="none"/>
<path d="M222.9,418.8 H264.9 M222.9,522.2 H264.9" stroke="#111" stroke-width="1.4" fill="none"/>
<rect x="201.5" y="437.6" width="84.6" height="34.9" fill="#d4d4d4" stroke="#111" stroke-width="1.4"/>
<path d="M201.5,455.2 H286.1" stroke="#111" stroke-width="1.4"/>
<circle cx="241.3" cy="418.8" r="1.85" fill="#000"/>
<circle cx="245.8" cy="423.4" r="1.85" fill="#000"/>
<circle cx="236.1" cy="430" r="1.85" fill="#000"/>
<circle cx="241.3" cy="430.5" r="1.85" fill="#000"/>
<circle cx="246.3" cy="429.6" r="1.85" fill="#000"/>
<circle cx="251" cy="428.3" r="1.85" fill="#000"/>
<circle cx="238.9" cy="438" r="1.85" fill="#000"/>
<circle cx="243.9" cy="437.6" r="1.85" fill="#000"/>
<circle cx="248.8" cy="438" r="1.85" fill="#000"/>
<circle cx="243.9" cy="440.8" r="1.85" fill="#000"/>
<circle cx="236.1" cy="452" r="1.85" fill="#000"/>
<circle cx="241.3" cy="451.4" r="1.85" fill="#000"/>
<circle cx="246.3" cy="452" r="1.85" fill="#000"/>
<circle cx="251" cy="448.8" r="1.85" fill="#000"/>
<circle cx="234.2" cy="455.2" r="1.85" fill="#000"/>
<circle cx="238.9" cy="455.2" r="1.85" fill="#000"/>
<circle cx="243.9" cy="453.9" r="1.85" fill="#000"/>
<circle cx="248.8" cy="455.2" r="1.85" fill="#000"/>
<circle cx="253.8" cy="453.9" r="1.85" fill="#000"/>
<circle cx="243.9" cy="458.9" r="1.85" fill="#000"/>
<circle cx="243.9" cy="465.6" r="1.85" fill="#000"/>
<circle cx="238.9" cy="470.1" r="1.85" fill="#000"/>
<circle cx="243.9" cy="470.1" r="1.85" fill="#000"/>
<circle cx="248.8" cy="470.1" r="1.85" fill="#000"/>
<circle cx="236.1" cy="473.5" r="1.85" fill="#000"/>
<circle cx="241.3" cy="473.5" r="1.85" fill="#000"/>
<circle cx="246.3" cy="475.7" r="1.85" fill="#000"/>
<circle cx="251" cy="472.5" r="1.85" fill="#000"/>
<circle cx="241.3" cy="477.2" r="1.85" fill="#000"/>
<circle cx="243.9" cy="485" r="1.85" fill="#000"/>
<circle cx="243.9" cy="491.6" r="1.85" fill="#000"/>
<circle cx="243.9" cy="501.8" r="1.85" fill="#000"/>
<circle cx="243.9" cy="522.2" r="1.85" fill="#000"/>
<text x="407" y="348.6" font-family='"Liberation Sans", sans-serif' font-size="28" font-weight="bold" fill="#000" text-anchor="start" >e</text>
<path d="M408.3,385.3 V560.5 H672.4" fill="none" stroke="#111" stroke-width="1.6"/>
<path d="M403.8,560.5 H408.3" stroke="#111" stroke-width="1.3"/>
<text x="401.8" y="564.2" font-family='"Liberation Sans", sans-serif' font-size="12.5" font-weight="bold" fill="#000" text-anchor="end" >0</text>
<path d="M403.8,525.5 H408.3" stroke="#111" stroke-width="1.3"/>
<text x="401.8" y="529.2" font-family='"Liberation Sans", sans-serif' font-size="12.5" font-weight="bold" fill="#000" text-anchor="end" >1</text>
<path d="M403.8,490.4 H408.3" stroke="#111" stroke-width="1.3"/>
<text x="401.8" y="494.1" font-family='"Liberation Sans", sans-serif' font-size="12.5" font-weight="bold" fill="#000" text-anchor="end" >2</text>
<path d="M403.8,455.4 H408.3" stroke="#111" stroke-width="1.3"/>
<text x="401.8" y="459.1" font-family='"Liberation Sans", sans-serif' font-size="12.5" font-weight="bold" fill="#000" text-anchor="end" >3</text>
<path d="M403.8,420.3 H408.3" stroke="#111" stroke-width="1.3"/>
<text x="401.8" y="424" font-family='"Liberation Sans", sans-serif' font-size="12.5" font-weight="bold" fill="#000" text-anchor="end" >4</text>
<path d="M403.8,385.3 H408.3" stroke="#111" stroke-width="1.3"/>
<text x="401.8" y="389" font-family='"Liberation Sans", sans-serif' font-size="12.5" font-weight="bold" fill="#000" text-anchor="end" >5</text>
<path d="M475,560.5 V565" stroke="#111" stroke-width="1.3"/>
<path d="M606.2,560.5 V565" stroke="#111" stroke-width="1.3"/>
<text x="472.4" y="579.2" font-family='"Liberation Sans", sans-serif' font-size="12.5" font-weight="bold" fill="#000" text-anchor="middle" >control</text>
<text x="603.6" y="579.2" font-family='"Liberation Sans", sans-serif' font-size="12.5" font-weight="bold" fill="#000" text-anchor="middle" >SOC</text>
<text x="540" y="382.5" font-family='"Liberation Sans", sans-serif' font-size="16.6" font-weight="bold" fill="#000" text-anchor="middle" >anti-Globo H IgG</text>
<text transform="translate(377.5 472.3) rotate(-90)" font-family='"Liberation Sans", sans-serif' font-size="14.5" font-weight="bold" text-anchor="middle">log(MFI)</text>
<path d="M474.2,405.9 V414 M474.2,436.1 V457.9" stroke="#111" stroke-width="1.7" fill="none"/>
<path d="M452.4,405.9 H496 M452.4,457.9 H496" stroke="#111" stroke-width="1.7" fill="none"/>
<rect x="430.4" y="414" width="88" height="22.1" fill="#fff" stroke="#111" stroke-width="1.7"/>
<path d="M430.4,427.6 H518.4" stroke="#111" stroke-width="1.7"/>
<circle cx="471.8" cy="405.9" r="1.85" fill="#000"/>
<circle cx="477" cy="405.9" r="1.85" fill="#000"/>
<circle cx="458.5" cy="409.9" r="1.85" fill="#000"/>
<circle cx="490.1" cy="408.9" r="1.85" fill="#000"/>
<circle cx="463.6" cy="412.6" r="1.85" fill="#000"/>
<circle cx="466.3" cy="414.8" r="1.85" fill="#000"/>
<circle cx="469.1" cy="413.5" r="1.85" fill="#000"/>
<circle cx="477" cy="413.7" r="1.85" fill="#000"/>
<circle cx="484.6" cy="412.4" r="1.85" fill="#000"/>
<circle cx="471.6" cy="418.1" r="1.85" fill="#000"/>
<circle cx="477" cy="419.8" r="1.85" fill="#000"/>
<circle cx="482.1" cy="417.3" r="1.85" fill="#000"/>
<circle cx="468.7" cy="423.5" r="1.85" fill="#000"/>
<circle cx="474.2" cy="425.5" r="1.85" fill="#000"/>
<circle cx="479.4" cy="423.8" r="1.85" fill="#000"/>
<circle cx="460.9" cy="427.6" r="1.85" fill="#000"/>
<circle cx="490.1" cy="427.9" r="1.85" fill="#000"/>
<circle cx="466.3" cy="431.5" r="1.85" fill="#000"/>
<circle cx="471.6" cy="432.2" r="1.85" fill="#000"/>
<circle cx="479.4" cy="432.2" r="1.85" fill="#000"/>
<circle cx="484.6" cy="432" r="1.85" fill="#000"/>
<circle cx="487.6" cy="433.6" r="1.85" fill="#000"/>
<circle cx="460.9" cy="435.5" r="1.85" fill="#000"/>
<circle cx="466.3" cy="436.6" r="1.85" fill="#000"/>
<circle cx="471.6" cy="437.7" r="1.85" fill="#000"/>
<circle cx="477" cy="437.7" r="1.85" fill="#000"/>
<circle cx="482.1" cy="436.3" r="1.85" fill="#000"/>
<circle cx="474.2" cy="444" r="1.85" fill="#000"/>
<circle cx="468.7" cy="453.2" r="1.85" fill="#000"/>
<circle cx="474.2" cy="457.9" r="1.85" fill="#000"/>
<circle cx="479.4" cy="457.2" r="1.85" fill="#000"/>
<path d="M606.2,406.1 V418.5 M606.2,472 V517.8" stroke="#111" stroke-width="2.8" fill="none"/>
<path d="M584.5,406.1 H628 M584.5,517.8 H628" stroke="#111" stroke-width="2.8" fill="none"/>
<rect x="562.7" y="418.5" width="87.4" height="53.5" fill="#d4d4d4" stroke="#111" stroke-width="2.8"/>
<path d="M562.7,441 H650.1" stroke="#111" stroke-width="2.8"/>
<circle cx="598.5" cy="405.5" r="1.85" fill="#000"/>
<circle cx="601.1" cy="408.1" r="1.85" fill="#000"/>
<circle cx="606.2" cy="405.5" r="1.85" fill="#000"/>
<circle cx="614.1" cy="405.5" r="1.85" fill="#000"/>
<circle cx="611.2" cy="410.2" r="1.85" fill="#000"/>
<circle cx="605.6" cy="415.2" r="1.85" fill="#000"/>
<circle cx="608.6" cy="418.9" r="1.85" fill="#000"/>
<circle cx="603.6" cy="429" r="1.85" fill="#000"/>
<circle cx="608.6" cy="427.4" r="1.85" fill="#000"/>
<circle cx="603.6" cy="434.4" r="1.85" fill="#000"/>
<circle cx="611.6" cy="436.5" r="1.85" fill="#000"/>
<circle cx="614.7" cy="438.5" r="1.85" fill="#000"/>
<circle cx="598.5" cy="439.5" r="1.85" fill="#000"/>
<circle cx="603.6" cy="443.6" r="1.85" fill="#000"/>
<circle cx="608.6" cy="440.5" r="1.85" fill="#000"/>
<circle cx="595.5" cy="446.6" r="1.85" fill="#000"/>
<circle cx="600.5" cy="448" r="1.85" fill="#000"/>
<circle cx="606" cy="449.6" r="1.85" fill="#000"/>
<circle cx="611.2" cy="447.2" r="1.85" fill="#000"/>
<circle cx="616.7" cy="446" r="1.85" fill="#000"/>
<circle cx="606" cy="467.8" r="1.85" fill="#000"/>
<circle cx="601.1" cy="478.4" r="1.85" fill="#000"/>
<circle cx="611.2" cy="477.5" r="1.85" fill="#000"/>
<circle cx="606.2" cy="481.6" r="1.85" fill="#000"/>
<circle cx="603.6" cy="489.1" r="1.85" fill="#000"/>
<circle cx="608.6" cy="488.1" r="1.85" fill="#000"/>
<circle cx="606.2" cy="510.3" r="1.85" fill="#000"/>
<circle cx="606.2" cy="517.8" r="1.85" fill="#000"/>
<text x="712" y="348.5" font-family='"Liberation Sans", sans-serif' font-size="28" font-weight="bold" fill="#000" text-anchor="start" >f</text>
<rect x="782.7" y="332.1" width="256.1" height="255.7" fill="none" stroke="#8a8a8a" stroke-width="1.2"/>
<path d="M1011.9,587.8 V592.2" stroke="#888" stroke-width="1.1"/>
<text x="1011.9" y="604.2" font-family='"Liberation Sans", sans-serif' font-size="8.2" font-weight="normal" fill="#333" text-anchor="middle" textLength="8.6" lengthAdjust="spacingAndGlyphs">0.0</text>
<path d="M782.7,578.3 H778.5" stroke="#888" stroke-width="1.1"/>
<text transform="translate(774.5 578.3) rotate(-90)" font-family='"Liberation Sans", sans-serif' font-size="8.2" fill="#333" text-anchor="middle" textLength="8.6" lengthAdjust="spacingAndGlyphs">0.0</text>
<path d="M971.5,587.8 V592.2" stroke="#888" stroke-width="1.1"/>
<text x="971.5" y="604.2" font-family='"Liberation Sans", sans-serif' font-size="8.2" font-weight="normal" fill="#333" text-anchor="middle" textLength="8.6" lengthAdjust="spacingAndGlyphs">0.2</text>
<path d="M782.7,531 H778.5" stroke="#888" stroke-width="1.1"/>
<text transform="translate(774.5 531) rotate(-90)" font-family='"Liberation Sans", sans-serif' font-size="8.2" fill="#333" text-anchor="middle" textLength="8.6" lengthAdjust="spacingAndGlyphs">0.2</text>
<path d="M931.1,587.8 V592.2" stroke="#888" stroke-width="1.1"/>
<text x="931.1" y="604.2" font-family='"Liberation Sans", sans-serif' font-size="8.2" font-weight="normal" fill="#333" text-anchor="middle" textLength="8.6" lengthAdjust="spacingAndGlyphs">0.4</text>
<path d="M782.7,483.7 H778.5" stroke="#888" stroke-width="1.1"/>
<text transform="translate(774.5 483.7) rotate(-90)" font-family='"Liberation Sans", sans-serif' font-size="8.2" fill="#333" text-anchor="middle" textLength="8.6" lengthAdjust="spacingAndGlyphs">0.4</text>
<path d="M890.6,587.8 V592.2" stroke="#888" stroke-width="1.1"/>
<text x="890.6" y="604.2" font-family='"Liberation Sans", sans-serif' font-size="8.2" font-weight="normal" fill="#333" text-anchor="middle" textLength="8.6" lengthAdjust="spacingAndGlyphs">0.6</text>
<path d="M782.7,436.4 H778.5" stroke="#888" stroke-width="1.1"/>
<text transform="translate(774.5 436.4) rotate(-90)" font-family='"Liberation Sans", sans-serif' font-size="8.2" fill="#333" text-anchor="middle" textLength="8.6" lengthAdjust="spacingAndGlyphs">0.6</text>
<path d="M850.2,587.8 V592.2" stroke="#888" stroke-width="1.1"/>
<text x="850.2" y="604.2" font-family='"Liberation Sans", sans-serif' font-size="8.2" font-weight="normal" fill="#333" text-anchor="middle" textLength="8.6" lengthAdjust="spacingAndGlyphs">0.8</text>
<path d="M782.7,389.1 H778.5" stroke="#888" stroke-width="1.1"/>
<text transform="translate(774.5 389.1) rotate(-90)" font-family='"Liberation Sans", sans-serif' font-size="8.2" fill="#333" text-anchor="middle" textLength="8.6" lengthAdjust="spacingAndGlyphs">0.8</text>
<path d="M809.8,587.8 V592.2" stroke="#888" stroke-width="1.1"/>
<text x="809.8" y="604.2" font-family='"Liberation Sans", sans-serif' font-size="8.2" font-weight="normal" fill="#333" text-anchor="middle" textLength="8.6" lengthAdjust="spacingAndGlyphs">1.0</text>
<path d="M782.7,341.8 H778.5" stroke="#888" stroke-width="1.1"/>
<text transform="translate(774.5 341.8) rotate(-90)" font-family='"Liberation Sans", sans-serif' font-size="8.2" fill="#333" text-anchor="middle" textLength="8.6" lengthAdjust="spacingAndGlyphs">1.0</text>
<path d="M801.7,587.8 L1020.2,332.1" stroke="#c8c8c8" stroke-width="1"/>
<path d="M810,578.3 V466.5 H816.2 V416.3 H851.4 V391.4 H886.1 V378.8 H907 V366.2 H914.3 V353.7 H977 L984.4,341.3 H1011.7" fill="none" stroke="#444" stroke-width="1.6"/>
<path d="M810,578.3 V454 H816.2 V428.5 H823.1 V391.4 H844.5 V378.8 H900.2 V366.2 H928.2 V353.7 H1003.9 V341.3 H1011.7" fill="none" stroke="#444" stroke-width="1.5" stroke-dasharray="4 2.5"/>
<path d="M810,578.3 V478.5 H816.2 V454 H823.1 V441.3 H837.3 V428.5 H865.3 V416.3 H893 V403.7 H914.3 V378.8 H984 V366.2 H1011.7 V341.3" fill="none" stroke="#444" stroke-width="1.5" stroke-dasharray="1.5 2"/>
<rect x="920.6" y="547.6" width="118.2" height="40.2" fill="#fff" stroke="#777" stroke-width="1"/>
<path d="M926,557.9 H937" stroke="#666" stroke-width="1.4"/>
<path d="M926,568.5 H937" stroke="#444" stroke-width="1" stroke-dasharray="2 1.6"/>
<path d="M926,577.8 H937" stroke="#bbb" stroke-width="1" stroke-dasharray="1.2 0.8"/>
<text x="942.6" y="561.6" font-family='"Liberation Sans", sans-serif' font-size="8.4" font-weight="normal" fill="#444" text-anchor="start" textLength="19.3" lengthAdjust="spacingAndGlyphs">Ca125</text>
<text x="942.6" y="570.9" font-family='"Liberation Sans", sans-serif' font-size="8.4" font-weight="normal" fill="#444" text-anchor="start" textLength="93" lengthAdjust="spacingAndGlyphs">Ca125+GloboH.IGG+GloboH.IGM</text>
<text x="942.6" y="580.8" font-family='"Liberation Sans", sans-serif' font-size="8.4" font-weight="normal" fill="#444" text-anchor="start" textLength="70.6" lengthAdjust="spacingAndGlyphs">GloboH.IGG+GloboH.IGM</text>
<text x="903.2" y="635.7" font-family='"Liberation Serif", serif' font-size="23.6" font-weight="bold" fill="#000" text-anchor="middle" >1-specificity</text>
<text transform="translate(754 456.2) rotate(-90)" font-family='"Liberation Serif", serif' font-size="23.6" font-weight="bold" text-anchor="middle">sensitivity</text>
</svg>
</body></html>
